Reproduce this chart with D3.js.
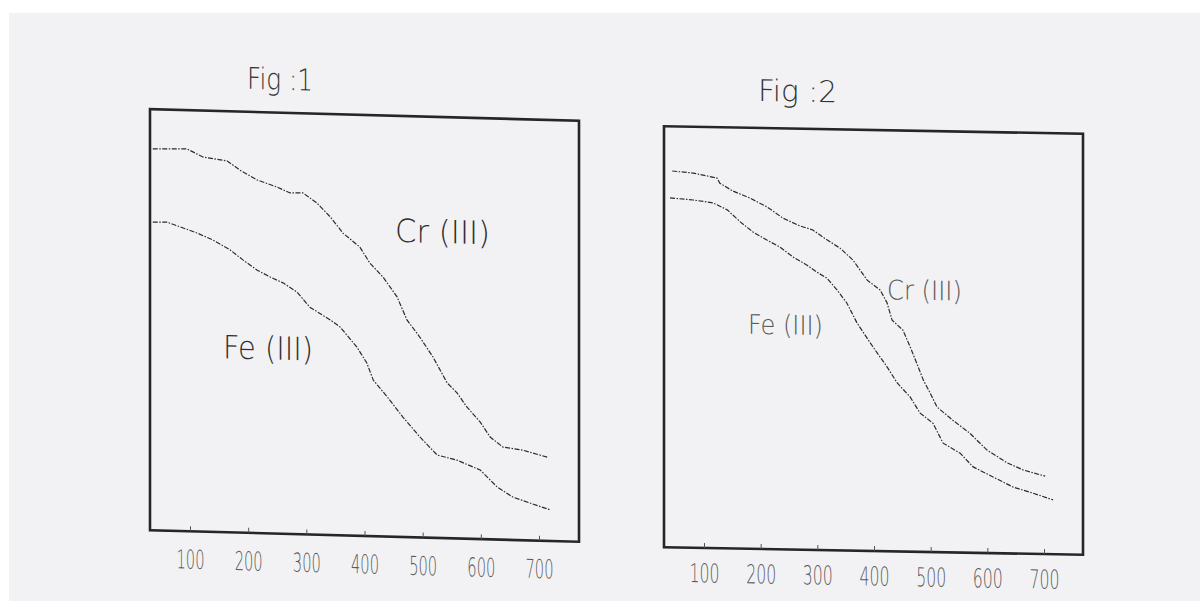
<!DOCTYPE html>
<html>
<head>
<meta charset="utf-8">
<script src="https://cdn.jsdelivr.net/npm/d3@7"></script>
<style>
  body { margin: 0; background: #fff; }
  text { font-family: "DejaVu Sans", sans-serif; font-weight: 200; }
</style>
</head>
<body>
<div id="chart"></div>
<script>
// wavelength ticks (same for both figures)
var xTicks = [100, 200, 300, 400, 500, 600, 700];

// Fig 1 (y is relative height inside the frame)
var fig1CrX = [36, 95, 122, 164, 186, 215, 250, 272, 294, 318, 341, 363, 392, 409, 432, 456, 473, 495, 518, 542, 559, 576, 599, 616, 638, 672, 714];
var fig1CrY = [0.906, 0.908, 0.890, 0.882, 0.861, 0.839, 0.823, 0.810, 0.811, 0.788, 0.756, 0.718, 0.686, 0.649, 0.616, 0.570, 0.516, 0.476, 0.429, 0.369, 0.346, 0.313, 0.278, 0.243, 0.220, 0.214, 0.199];
var fig1FeX = [36, 60, 112, 140, 169, 191, 215, 238, 260, 284, 306, 341, 358, 387, 404, 415, 439, 466, 495, 525, 559, 599, 628, 655, 684, 719];
var fig1FeY = [0.732, 0.733, 0.709, 0.693, 0.671, 0.648, 0.625, 0.609, 0.596, 0.575, 0.540, 0.511, 0.495, 0.448, 0.411, 0.371, 0.332, 0.285, 0.239, 0.197, 0.186, 0.164, 0.125, 0.102, 0.089, 0.074];

// Fig 2
var fig2CrX = [44, 81, 123, 128, 151, 181, 211, 239, 269, 292, 317, 340, 363, 388, 411, 423, 432, 451, 464, 478, 487, 499, 511, 539, 569, 599, 635, 663, 702];
var fig2CrY = [0.894, 0.890, 0.879, 0.867, 0.849, 0.833, 0.813, 0.787, 0.769, 0.760, 0.737, 0.718, 0.690, 0.643, 0.620, 0.590, 0.549, 0.526, 0.486, 0.439, 0.408, 0.378, 0.345, 0.314, 0.284, 0.245, 0.215, 0.199, 0.185];
var fig2FeX = [40, 81, 116, 141, 164, 187, 211, 234, 257, 282, 299, 317, 335, 352, 370, 398, 423, 441, 464, 481, 504, 522, 552, 575, 610, 645, 681, 716];
var fig2FeY = [0.830, 0.826, 0.820, 0.804, 0.776, 0.752, 0.734, 0.718, 0.695, 0.676, 0.660, 0.646, 0.618, 0.588, 0.541, 0.485, 0.438, 0.400, 0.367, 0.330, 0.306, 0.259, 0.236, 0.204, 0.181, 0.158, 0.144, 0.129];

var svg = d3.select("#chart")
  .append("svg")
  .attr("width", 1200)
  .attr("height", 601);

// scanned paper
svg.append("rect")
  .attr("x", 9).attr("y", 13)
  .attr("width", 1191).attr("height", 588)
  .attr("fill", "#f2f2f5");

function drawFigure(cfg) {
  // the scan is slightly tilted, so skew each figure a little
  var k = cfg.tilt;
  var g = svg.append("g")
    .attr("transform", `translate(0, ${-cfg.cx * k}) skewY(${Math.atan(k) * 180 / Math.PI})`);

  var x = d3.scaleLinear().domain([100, 700]).range(cfg.xRange);
  var y = d3.scaleLinear().domain([0, 1]).range([cfg.bottom, cfg.top]);

  // frame
  g.append("rect")
    .attr("x", cfg.left)
    .attr("y", cfg.top)
    .attr("width", cfg.right - cfg.left)
    .attr("height", cfg.bottom - cfg.top)
    .attr("fill", "none")
    .attr("stroke", "#262626")
    .attr("stroke-width", 2.6);

  var axis = g.append("g")
    .attr("transform", `translate(0, ${cfg.bottom})`)
    .call(d3.axisBottom(x).tickValues(xTicks).tickSize(-5).tickPadding(cfg.pad));
  axis.select(".domain").remove();
  axis.selectAll("line").attr("stroke", "#555");
  axis.selectAll("text")
    .attr("fill", "#5a5a5a")
    .style("font-size", "26px")
    .attr("textLength", cfg.labelW)
    .attr("lengthAdjust", "spacingAndGlyphs");

  var line = d3.line()
    .x(d => x(d[0]))
    .y(d => y(d[1]));

  cfg.series.forEach(function (s) {
    g.append("path")
      .datum(d3.zip(s.xs, s.ys))
      .attr("d", line)
      .attr("fill", "none")
      .attr("stroke", "#2b2b2b")
      .attr("stroke-width", 1.2)
      .attr("stroke-dasharray", "5,1.5,1.5,1.5");

    g.append("text")
      .attr("x", s.lx).attr("y", s.ly)
      .attr("textLength", s.lw)
      .attr("lengthAdjust", "spacingAndGlyphs")
      .attr("fill", s.col)
      .style("font-size", s.fs + "px")
      .text(s.name);
  });

  g.append("text")
    .attr("x", cfg.titleX).attr("y", cfg.titleY)
    .attr("textLength", cfg.titleW)
    .attr("lengthAdjust", "spacingAndGlyphs")
    .attr("fill", "#333")
    .style("font-size", "30px")
    .text(cfg.title);
}

drawFigure({
  title: "Fig :1", titleX: 247, titleY: 92, titleW: 66,
  cx: 365, tilt: 0.027,
  left: 150, right: 579, top: 115, bottom: 536,
  xRange: [190, 539], pad: 19, labelW: 28,
  series: [
    { name: "Cr (III)", xs: fig1CrX, ys: fig1CrY, lx: 395, ly: 241, lw: 95, fs: 32, col: "#2e2e2e" },
    { name: "Fe (III)", xs: fig1FeX, ys: fig1FeY, lx: 223, ly: 362, lw: 90, fs: 32, col: "#2e2e2e" }
  ]
});

drawFigure({
  title: "Fig :2", titleX: 758, titleY: 103, titleW: 79,
  cx: 874.5, tilt: 0.018,
  left: 664, right: 1083, top: 130, bottom: 551,
  xRange: [704, 1044], pad: 16, labelW: 30,
  series: [
    { name: "Cr (III)", xs: fig2CrX, ys: fig2CrY, lx: 887, ly: 299, lw: 75, fs: 27, col: "#555" },
    { name: "Fe (III)", xs: fig2FeX, ys: fig2FeY, lx: 748, ly: 336, lw: 75, fs: 27, col: "#555" }
  ]
});
</script>
</body>
</html>
